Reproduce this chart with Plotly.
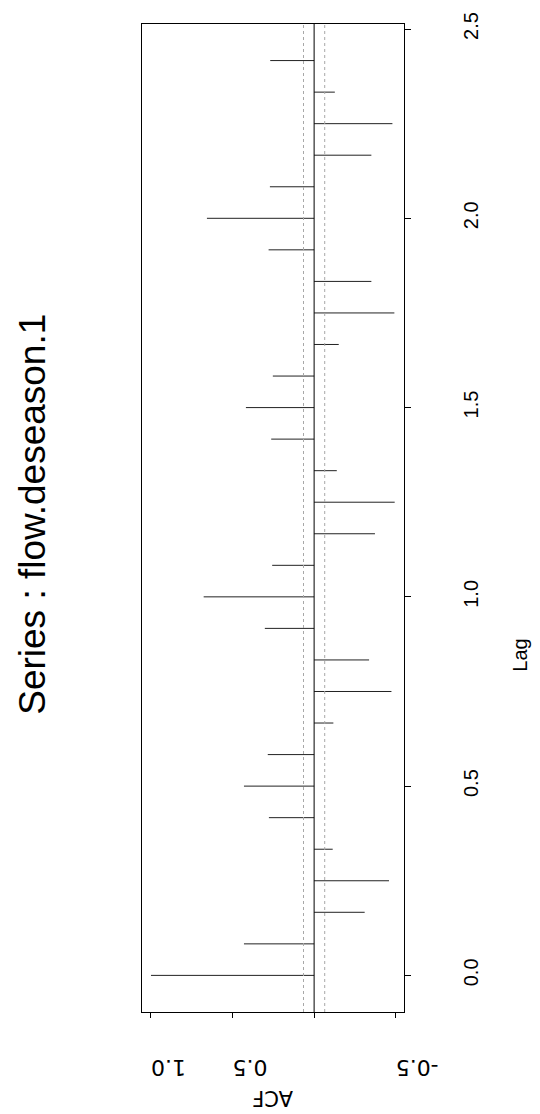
import plotly.graph_objects as go

# ACF at lags (years, monthly data)
lags = [0.0, 0.0833, 0.1667, 0.25, 0.3333, 0.4167, 0.5, 0.5833, 0.6667, 0.75,
        0.8333, 0.9167, 1.0, 1.0833, 1.1667, 1.25, 1.3333, 1.4167, 1.5, 1.5833,
        1.6667, 1.75, 1.8333, 1.9167, 2.0, 2.0833, 2.1667, 2.25, 2.3333, 2.4167]
acf = [1.0, 0.430, -0.310, -0.459, -0.114, 0.277, 0.430, 0.284, -0.118, -0.474,
       -0.337, 0.302, 0.677, 0.257, -0.373, -0.494, -0.139, 0.263, 0.418, 0.253,
       -0.151, -0.492, -0.351, 0.279, 0.657, 0.271, -0.351, -0.480, -0.127, 0.269]
conf_band = 0.065

lag_ticks = [0.0, 0.5, 1.0, 1.5, 2.0, 2.5]
lag_labels = ["0.0", "0.5", "1.0", "1.5", "2.0", "2.5"]
acf_ticks = [1.0, 0.5, 0.0, -0.5]
acf_labels = ["1.0", "0.5", "", "-0.5"]

title_text = "Series : flow.deseason.1"

xs, ys = [], []
for l, a in zip(lags, acf):
    xs += [0, a, None]
    ys += [l, l, None]

fig = go.Figure()
fig.add_trace(go.Scatter(x=xs, y=ys, mode="lines",
                         line=dict(color="#222222", width=1),
                         hoverinfo="skip", showlegend=False))

# zero line and confidence bounds
fig.add_shape(type="line", xref="x", yref="paper", x0=0, x1=0, y0=0, y1=1,
              line=dict(color="black", width=1))
for c in (conf_band, -conf_band):
    fig.add_shape(type="line", xref="x", yref="paper", x0=c, x1=c, y0=0, y1=1,
                  line=dict(color="#a8a8a8", width=1, dash="dot"))

sans = "Liberation Sans, Arial, sans-serif"
wide = "DejaVu Sans, Liberation Sans, Arial, sans-serif"

fig.update_layout(
    width=540, height=1114,
    margin=dict(l=142, r=136, t=18, b=102),
    paper_bgcolor="white", plot_bgcolor="white",
    showlegend=False,
    xaxis=dict(range=[1.055, -0.551], tickvals=acf_ticks, ticktext=acf_labels,
               showgrid=False, zeroline=False, showline=True, mirror=True,
               linecolor="black", linewidth=1, ticks="outside", ticklen=5,
               tickcolor="black", tickwidth=1, tickangle=180,
               ticklabelstandoff=38,
               tickfont=dict(family=wide, size=22, color="black")),
    yaxis=dict(range=[-0.0967, 2.5133], tickvals=lag_ticks, ticktext=lag_labels,
               side="right", showgrid=False, zeroline=False, showline=True,
               mirror=True, linecolor="black", linewidth=1, ticks="outside",
               ticklen=6, tickcolor="black", tickwidth=1, tickangle=-90,
               ticklabelstandoff=43,
               tickfont=dict(family=sans, size=20, color="black")),
    annotations=[
        dict(text=title_text, textangle=-90, xref="paper", yref="paper",
             x=(31.7 - 141.7) / 262.6, y=(1011.7 - 511.5) / 993.4,
             xanchor="center", yanchor="middle", showarrow=False,
             font=dict(family=sans, size=37, color="black")),
        dict(text="Lag", textangle=-90, xref="paper", yref="paper",
             x=(521 - 141.7) / 262.6, y=(1011.7 - 653) / 993.4,
             xanchor="center", yanchor="middle", showarrow=False,
             font=dict(family=sans, size=20, color="black")),
        dict(text="ACF", textangle=180, xref="paper", yref="paper",
             x=(272.5 - 141.7) / 262.6, y=(1011.7 - 1098) / 993.4,
             xanchor="center", yanchor="middle", showarrow=False,
             font=dict(family=wide, size=21, color="black")),
    ],
)

fig.write_html("out.html")
